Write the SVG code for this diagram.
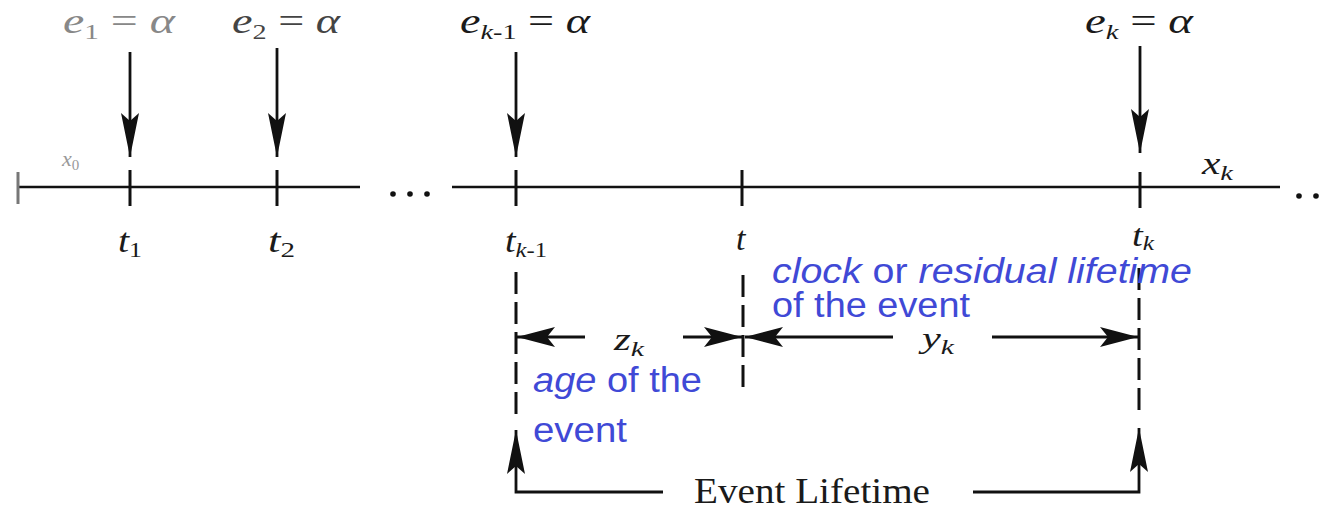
<svg xmlns="http://www.w3.org/2000/svg" width="1326" height="511" viewBox="0 0 1326 511">
<style>
.ax{stroke:#111;stroke-width:2.6;fill:none}
.tk{stroke:#111;stroke-width:3;fill:none}
.dash{stroke:#111;stroke-width:3;fill:none;stroke-dasharray:22 8}
.ln{stroke:#111;stroke-width:2.8;fill:none}
.m{font-family:"Liberation Serif",serif;font-style:italic;fill:#1a1a1a}
.r{font-family:"Liberation Serif",serif;fill:#1a1a1a}
.b{font-family:"Liberation Sans",sans-serif;fill:#4049d6;font-size:35px}
.bi{font-style:italic}
</style>
<defs>
<marker id="ah" viewBox="0 0 44 18" refX="44" refY="9" markerWidth="44" markerHeight="18" orient="auto" markerUnits="userSpaceOnUse">
<path d="M0,0 L44,9 L0,18 L8,9 Z" fill="#111"/>
</marker>
<marker id="ahs" viewBox="0 0 38 20" refX="38" refY="10" markerWidth="38" markerHeight="20" orient="auto" markerUnits="userSpaceOnUse">
<path d="M0,0 L38,10 L0,20 L8,10 Z" fill="#111"/>
</marker>
</defs>

<g id="timeline">
<line class="ax" x1="18" y1="187" x2="360" y2="187"/>
<line class="ax" x1="452" y1="187" x2="1280" y2="187"/>
<line class="tk" x1="18" y1="172" x2="18" y2="204" style="stroke:#777"/>
<line class="tk" x1="130" y1="170" x2="130" y2="206"/>
<line class="tk" x1="277" y1="170" x2="277" y2="206"/>
<line class="tk" x1="516" y1="170" x2="516" y2="206"/>
<line class="tk" x1="742" y1="170" x2="742" y2="206"/>
<line class="tk" x1="1140" y1="172" x2="1140" y2="208"/>
<g fill="#111">
<circle cx="393" cy="194" r="2.8"/><circle cx="410" cy="194" r="2.8"/><circle cx="427" cy="194" r="2.8"/>
<circle cx="1299" cy="196" r="2.8"/><circle cx="1316" cy="196" r="2.8"/>
</g>
</g>

<g id="connectors">
<line class="ln" x1="130" y1="52" x2="130" y2="157" marker-end="url(#ah)"/>
<line class="ln" x1="277" y1="48" x2="277" y2="157" marker-end="url(#ah)"/>
<line class="ln" x1="516" y1="52" x2="516" y2="157" marker-end="url(#ah)"/>
<line class="ln" x1="1140" y1="46" x2="1140" y2="153" marker-end="url(#ah)"/>
<line class="dash" x1="516" y1="272" x2="516" y2="414"/>
<line class="dash" x1="743" y1="275" x2="743" y2="387"/>
<line class="dash" x1="1139" y1="268" x2="1139" y2="410"/>
<line class="ln" x1="585" y1="337" x2="517" y2="337" marker-end="url(#ahs)"/>
<line class="ln" x1="683" y1="337" x2="742" y2="337" marker-end="url(#ahs)"/>
<line class="ln" x1="893" y1="337" x2="745" y2="337" marker-end="url(#ahs)"/>
<line class="ln" x1="992" y1="337" x2="1138" y2="337" marker-end="url(#ahs)"/>
<path class="ln" d="M663,492 L516,492 L516,430" marker-end="url(#ah)"/>
<path class="ln" d="M973,492 L1139,492 L1139,428" marker-end="url(#ah)"/>
</g>

<g id="labels">
<text class="m" x="63" y="33" font-size="36" style="fill:#888" textLength="112" lengthAdjust="spacingAndGlyphs">e<tspan font-size="22" dy="6" font-style="normal">1</tspan><tspan dy="-6" font-style="normal"> = </tspan>α</text>
<text class="m" x="232" y="33" font-size="36" style="fill:#444" textLength="108" lengthAdjust="spacingAndGlyphs">e<tspan font-size="22" dy="6" font-style="normal">2</tspan><tspan dy="-6" font-style="normal"> = </tspan>α</text>
<text class="m" x="460" y="33" font-size="36" textLength="130" lengthAdjust="spacingAndGlyphs">e<tspan font-size="22" dy="6">k</tspan><tspan font-size="22" font-style="normal">-1</tspan><tspan dy="-6" font-style="normal"> = </tspan>α</text>
<text class="m" x="1085" y="33" font-size="36" textLength="108" lengthAdjust="spacingAndGlyphs">e<tspan font-size="22" dy="6">k</tspan><tspan dy="-6" font-style="normal"> = </tspan>α</text>
<text class="m" x="62" y="166" font-size="22" style="fill:#999">x<tspan font-size="15" dy="4" font-style="normal">0</tspan></text>
<text class="m" x="1202" y="174" font-size="32" textLength="31" lengthAdjust="spacingAndGlyphs">x<tspan font-size="22" dy="6">k</tspan></text>
<text class="m" x="118" y="252" font-size="34" textLength="24" lengthAdjust="spacingAndGlyphs">t<tspan font-size="22" dy="5" font-style="normal">1</tspan></text>
<text class="m" x="268" y="252" font-size="34" textLength="27" lengthAdjust="spacingAndGlyphs">t<tspan font-size="22" dy="5" font-style="normal">2</tspan></text>
<text class="m" x="505" y="252" font-size="34" textLength="42" lengthAdjust="spacingAndGlyphs">t<tspan font-size="22" dy="5">k</tspan><tspan font-size="22" font-style="normal">-1</tspan></text>
<text class="m" x="736" y="250" font-size="34">t</text>
<text class="m" x="1132" y="246" font-size="32" textLength="22" lengthAdjust="spacingAndGlyphs">t<tspan font-size="21" dy="4">k</tspan></text>
<text class="m" x="614" y="350" font-size="32" textLength="30" lengthAdjust="spacingAndGlyphs">z<tspan font-size="22" dy="6">k</tspan></text>
<text class="m" x="922" y="348" font-size="30" textLength="32" lengthAdjust="spacingAndGlyphs">y<tspan font-size="21" dy="6">k</tspan></text>
<text class="r" x="694" y="503" font-size="35" textLength="236" lengthAdjust="spacingAndGlyphs">Event Lifetime</text>
</g>

<g id="annotations">
<text class="b" x="772" y="283" textLength="420" lengthAdjust="spacingAndGlyphs"><tspan class="bi">clock</tspan> or  <tspan class="bi">residual lifetime</tspan></text>
<text class="b" x="772" y="317" textLength="198" lengthAdjust="spacingAndGlyphs">of the event</text>
<text class="b" x="533" y="392" textLength="169" lengthAdjust="spacingAndGlyphs"><tspan class="bi">age</tspan> of the</text>
<text class="b" x="533" y="442" textLength="94" lengthAdjust="spacingAndGlyphs">event</text>
</g>
</svg>
